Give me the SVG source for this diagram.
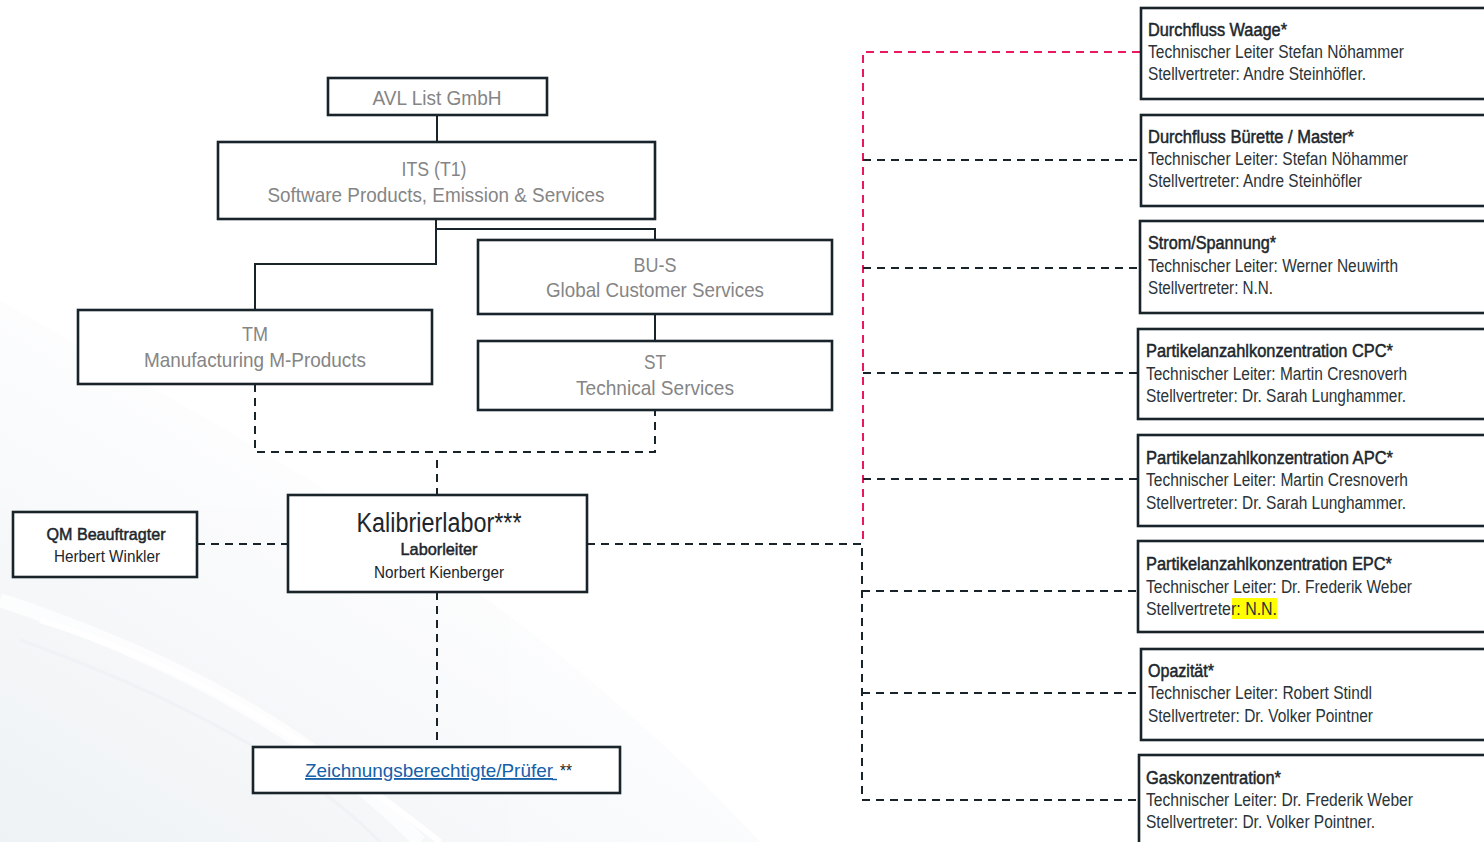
<svg xmlns="http://www.w3.org/2000/svg" width="1484" height="842" viewBox="0 0 1484 842">
<defs>
<style>
text{font-family:"Liberation Sans Narrow","Liberation Sans",Arial,sans-serif;}
.box{fill:#ffffff;stroke:#18232a;stroke-width:2.6;}
.solid{fill:none;stroke:#18232a;stroke-width:2;}
.dash{fill:none;stroke:#18232a;stroke-width:2;stroke-dasharray:8 6;}
.pink{fill:none;stroke:#e8195f;stroke-width:2;stroke-dasharray:8 6;}
.gray{fill:#858585;font-size:21px;text-anchor:middle;}
.dark{fill:#1c262c;}
.med{stroke:#1c262c;stroke-width:0.5;}
.ttl{fill:#1c262c;font-size:18px;stroke:#1c262c;stroke-width:0.5;}
.body{fill:#2a3338;font-size:18px;}
</style>
<linearGradient id="bg" x1="0" y1="1" x2="0.6" y2="0.3">
<stop offset="0" stop-color="#e8edf1"/>
<stop offset="1" stop-color="#ffffff"/>
</linearGradient>
</defs>
<rect width="1484" height="842" fill="#ffffff"/>
<g id="background" opacity="0.7">
<path d="M0 300 C 200 420 500 560 760 842 L0 842 Z" fill="url(#bg)"/>
<path d="M0 600 C 150 650 300 720 420 842" fill="none" stroke="#ffffff" stroke-width="14" opacity="0.8"/>
<path d="M20 640 C 160 690 300 760 380 842" fill="none" stroke="#e9eef2" stroke-width="3"/>
<path d="M40 620 C 170 660 300 730 440 842" fill="none" stroke="#ffffff" stroke-width="6"/>
</g>
<g id="connectors">
<path class="solid" d="M437 115 V142"/>
<path class="solid" d="M436 219 V264 H255 V310"/>
<path class="solid" d="M436 229 H655 V240"/>
<path class="solid" d="M655 314 V341"/>
<path class="dash" d="M255 384 V452 H655 V410"/>
<path class="dash" d="M437 460 V495"/>
<path class="dash" d="M197 544 H288"/>
<path class="dash" d="M437 592 V747"/>
<path class="dash" d="M587 544 H861"/>
<path class="pink" d="M1140 52 H863 V543"/>
<path class="dash" d="M862 548 V800 H1139"/>
<path class="dash" d="M863 160 H1141"/>
<path class="dash" d="M863 268 H1140"/>
<path class="dash" d="M863 373 H1138"/>
<path class="dash" d="M863 479 H1138"/>
<path class="dash" d="M862 591 H1138"/>
<path class="dash" d="M862 693 H1141"/>
</g>
<g id="avl">
<rect class="box" x="328" y="78" width="219" height="37"/>
<text class="gray" x="437" y="105" textLength="129" lengthAdjust="spacingAndGlyphs">AVL List GmbH</text>
</g>
<g id="its">
<rect class="box" x="218" y="142" width="437" height="77"/>
<text class="gray" x="434" y="176" textLength="65" lengthAdjust="spacingAndGlyphs">ITS (T1)</text>
<text class="gray" x="436" y="202" textLength="337" lengthAdjust="spacingAndGlyphs">Software Products, Emission &amp; Services</text>
</g>
<g id="bus">
<rect class="box" x="478" y="240" width="354" height="74"/>
<text class="gray" x="655" y="272" textLength="43" lengthAdjust="spacingAndGlyphs">BU-S</text>
<text class="gray" x="655" y="297" textLength="218" lengthAdjust="spacingAndGlyphs">Global Customer Services</text>
</g>
<g id="tm">
<rect class="box" x="78" y="310" width="354" height="74"/>
<text class="gray" x="255" y="341" textLength="26" lengthAdjust="spacingAndGlyphs">TM</text>
<text class="gray" x="255" y="367" textLength="222" lengthAdjust="spacingAndGlyphs">Manufacturing M-Products</text>
</g>
<g id="st">
<rect class="box" x="478" y="341" width="354" height="69"/>
<text class="gray" x="655" y="369" textLength="22" lengthAdjust="spacingAndGlyphs">ST</text>
<text class="gray" x="655" y="395" textLength="158" lengthAdjust="spacingAndGlyphs">Technical Services</text>
</g>
<g id="kalibrierlabor">
<rect class="box" x="288" y="495" width="299" height="97"/>
<text class="dark" x="439" y="532" font-size="27" text-anchor="middle" textLength="165" lengthAdjust="spacingAndGlyphs">Kalibrierlabor***</text>
<text class="dark med" x="439" y="555" font-size="17" text-anchor="middle" textLength="77" lengthAdjust="spacingAndGlyphs">Laborleiter</text>
<text class="dark" x="439" y="578" font-size="17" text-anchor="middle" textLength="130" lengthAdjust="spacingAndGlyphs">Norbert Kienberger</text>
</g>
<g id="qm">
<rect class="box" x="13" y="512" width="184" height="65"/>
<text class="dark med" x="106" y="540" font-size="17" text-anchor="middle" textLength="119" lengthAdjust="spacingAndGlyphs">QM Beauftragter</text>
<text class="dark" x="107" y="562" font-size="17" text-anchor="middle" textLength="106" lengthAdjust="spacingAndGlyphs">Herbert Winkler</text>
</g>
<g id="pruefer">
<rect class="box" x="253" y="747" width="367" height="46"/>
<text x="305" y="777" font-size="18.5" fill="#1560a8" text-decoration="underline" textLength="248" lengthAdjust="spacingAndGlyphs">Zeichnungsberechtigte/Prüfer</text>
<line x1="552" y1="779.5" x2="557" y2="779.5" stroke="#1560a8" stroke-width="1.4"/>
<text class="dark" x="560" y="777" font-size="18" textLength="12" lengthAdjust="spacingAndGlyphs">**</text>
</g>
<g id="waage">
<rect class="box" x="1141" y="8" width="360" height="91"/>
<text class="ttl" x="1148" y="36" textLength="139" lengthAdjust="spacingAndGlyphs">Durchfluss Waage*</text>
<text class="body" x="1148" y="58" textLength="256" lengthAdjust="spacingAndGlyphs">Technischer Leiter Stefan Nöhammer</text>
<text class="body" x="1148" y="80" textLength="218" lengthAdjust="spacingAndGlyphs">Stellvertreter: Andre Steinhöfler.</text>
</g>
<g id="buerette">
<rect class="box" x="1141" y="115" width="360" height="91"/>
<text class="ttl" x="1148" y="143" textLength="206" lengthAdjust="spacingAndGlyphs">Durchfluss Bürette / Master*</text>
<text class="body" x="1148" y="165" textLength="260" lengthAdjust="spacingAndGlyphs">Technischer Leiter: Stefan Nöhammer</text>
<text class="body" x="1148" y="187" textLength="214" lengthAdjust="spacingAndGlyphs">Stellvertreter: Andre Steinhöfler</text>
</g>
<g id="strom">
<rect class="box" x="1140" y="221" width="360" height="92"/>
<text class="ttl" x="1148" y="249" textLength="128" lengthAdjust="spacingAndGlyphs">Strom/Spannung*</text>
<text class="body" x="1148" y="272" textLength="250" lengthAdjust="spacingAndGlyphs">Technischer Leiter: Werner Neuwirth</text>
<text class="body" x="1148" y="294" textLength="125" lengthAdjust="spacingAndGlyphs">Stellvertreter: N.N.</text>
</g>
<g id="cpc">
<rect class="box" x="1138" y="329" width="362" height="90"/>
<text class="ttl" x="1146" y="357" textLength="247" lengthAdjust="spacingAndGlyphs">Partikelanzahlkonzentration CPC*</text>
<text class="body" x="1146" y="380" textLength="261" lengthAdjust="spacingAndGlyphs">Technischer Leiter: Martin Cresnoverh</text>
<text class="body" x="1146" y="402" textLength="260" lengthAdjust="spacingAndGlyphs">Stellvertreter: Dr. Sarah Lunghammer.</text>
</g>
<g id="apc">
<rect class="box" x="1138" y="435" width="362" height="91"/>
<text class="ttl" x="1146" y="464" textLength="247" lengthAdjust="spacingAndGlyphs">Partikelanzahlkonzentration APC*</text>
<text class="body" x="1146" y="486" textLength="262" lengthAdjust="spacingAndGlyphs">Technischer Leiter: Martin Cresnoverh</text>
<text class="body" x="1146" y="509" textLength="260" lengthAdjust="spacingAndGlyphs">Stellvertreter: Dr. Sarah Lunghammer.</text>
</g>
<g id="epc">
<rect class="box" x="1138" y="541" width="362" height="91"/>
<text class="ttl" x="1146" y="570" textLength="246" lengthAdjust="spacingAndGlyphs">Partikelanzahlkonzentration EPC*</text>
<text class="body" x="1146" y="593" textLength="266" lengthAdjust="spacingAndGlyphs">Technischer Leiter: Dr. Frederik Weber</text>
<rect x="1232" y="598" width="45" height="21" fill="#ffff00"/>
<text class="body" x="1146" y="615" textLength="131" lengthAdjust="spacingAndGlyphs">Stellvertreter:  N.N.</text>
</g>
<g id="opazitaet">
<rect class="box" x="1141" y="649" width="360" height="91"/>
<text class="ttl" x="1148" y="677" textLength="66" lengthAdjust="spacingAndGlyphs">Opazität*</text>
<text class="body" x="1148" y="699" textLength="224" lengthAdjust="spacingAndGlyphs">Technischer Leiter: Robert Stindl</text>
<text class="body" x="1148" y="722" textLength="225" lengthAdjust="spacingAndGlyphs">Stellvertreter: Dr. Volker Pointner</text>
</g>
<g id="gaskonzentration">
<rect class="box" x="1139" y="755" width="362" height="100"/>
<text class="ttl" x="1146" y="784" textLength="135" lengthAdjust="spacingAndGlyphs">Gaskonzentration*</text>
<text class="body" x="1146" y="806" textLength="267" lengthAdjust="spacingAndGlyphs">Technischer Leiter: Dr. Frederik Weber</text>
<text class="body" x="1146" y="828" textLength="229" lengthAdjust="spacingAndGlyphs">Stellvertreter: Dr. Volker Pointner.</text>
</g>
</svg>
